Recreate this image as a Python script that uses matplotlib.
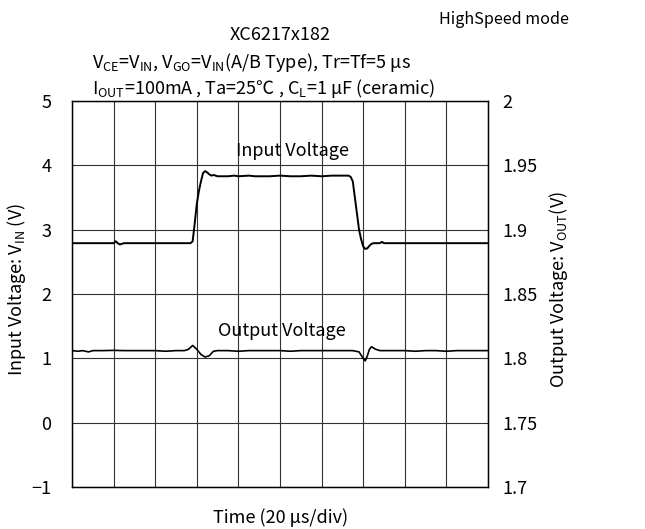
import matplotlib
matplotlib.use('Agg')
import matplotlib.pyplot as plt

plt.rcParams['font.family'] = ['Noto Sans CJK JP', 'DejaVu Sans']
plt.rcParams['mathtext.fontset'] = 'custom'
plt.rcParams['mathtext.rm'] = 'Noto Sans CJK JP'
plt.rcParams['mathtext.it'] = 'Noto Sans CJK JP'
plt.rcParams['mathtext.default'] = 'rm'

# time in us (20 us/div, 10 div)
t_in = [0, 20, 21, 22, 23, 24, 25, 57, 58, 59, 60, 61, 62, 63, 64, 65, 66, 67, 68, 70,
        75, 78, 80, 85, 88, 95, 100, 105, 110, 115, 120, 125, 130, 133, 134, 135, 136,
        137, 138, 139, 140, 141, 142, 143, 144, 145, 148, 149, 150, 200]
v_in = [2.79, 2.79, 2.82, 2.79, 2.77, 2.78, 2.79, 2.79, 2.82, 3.1, 3.4, 3.6, 3.75, 3.88,
        3.91, 3.89, 3.86, 3.84, 3.85, 3.83, 3.83, 3.84, 3.83, 3.84, 3.83, 3.83, 3.84,
        3.83, 3.83, 3.84, 3.83, 3.84, 3.84, 3.84, 3.82, 3.75, 3.5, 3.25, 3.0, 2.85,
        2.74, 2.70, 2.71, 2.75, 2.78, 2.79, 2.79, 2.81, 2.79, 2.79]

t_out = [0, 3, 5, 8, 10, 15, 20, 25, 30, 35, 40, 45, 50, 54, 56, 58, 60, 62, 64, 66, 68,
         70, 75, 80, 85, 90, 95, 100, 105, 110, 115, 120, 125, 130, 135, 138, 140, 141,
         142, 143, 144, 146, 148, 150, 155, 160, 165, 170, 175, 180, 185, 190, 195, 200]
v_out = [1.806, 1.8055, 1.806, 1.805, 1.806, 1.806, 1.8062, 1.806, 1.806, 1.806, 1.806,
         1.8055, 1.806, 1.806, 1.807, 1.810, 1.807, 1.803, 1.801, 1.802, 1.8055,
         1.806, 1.806, 1.8055, 1.806, 1.806, 1.806, 1.806, 1.8055, 1.806, 1.806, 1.806,
         1.806, 1.806, 1.806, 1.805, 1.800, 1.798, 1.802, 1.807, 1.809, 1.807, 1.806,
         1.806, 1.806, 1.806, 1.8055, 1.806, 1.806, 1.8055, 1.806, 1.806, 1.806, 1.806]

left_ticks = [-1, 0, 1, 2, 3, 4, 5]
left_labels = ['\u22121', '0', '1', '2', '3', '4', '5']
right_ticks = [1.7, 1.75, 1.8, 1.85, 1.9, 1.95, 2.0]
right_labels = ['1.7', '1.75', '1.8', '1.85', '1.9', '1.95', '2']
x_grid = [0, 20, 40, 60, 80, 100, 120, 140, 160, 180, 200]

fs = 13

fig = plt.figure(figsize=(6.45, 5.29), dpi=100)
ax = fig.add_axes([72 / 645, 1 - 487 / 529, 416 / 645, 386 / 529])
ax2 = ax.twinx()

ax.set_xlim(0, 200)
ax.set_ylim(-1, 5)
ax2.set_ylim(1.7, 2.0)
ax.set_xticks(x_grid)
ax.set_xticklabels([])
ax.set_yticks(left_ticks)
ax.set_yticklabels(left_labels)
ax2.set_yticks(right_ticks)
ax2.set_yticklabels(right_labels)
ax.tick_params(length=0, labelsize=fs, pad=15)
ax2.tick_params(length=0, labelsize=fs, pad=10)
ax.grid(True, color='#333333', linewidth=0.8)
for a in (ax, ax2):
    for s in a.spines.values():
        s.set_linewidth(0.9)

ax.plot(t_in, v_in, color='black', linewidth=1.4)
ax2.plot(t_out, v_out, color='black', linewidth=1.2)

ax.text(106, 4.22, 'Input Voltage', ha='center', va='center', fontsize=fs)
ax.text(101, 1.42, 'Output Voltage', ha='center', va='center', fontsize=fs)

fig.text(17 / 645, 1 - 290 / 529, r'Input Voltage: V$_{\mathregular{IN}}$ (V)',
         rotation=90, ha='center', va='center', fontsize=fs)
fig.text(558 / 645, 1 - 290 / 529, r'Output Voltage: V$_{\mathregular{OUT}}$(V)',
         rotation=90, ha='center', va='center', fontsize=fs)
fig.text(281 / 645, 1 - 518 / 529, 'Time (20 \u03bcs/div)', ha='center', va='center', fontsize=fs)

fig.text(504 / 645, 1 - 20 / 529, 'HighSpeed mode', ha='center', va='center', fontsize=11.6)
fig.text(280 / 645, 1 - 35 / 529, 'XC6217x182', ha='center', va='center', fontsize=fs)
fig.text(92 / 645, 1 - 62 / 529,
         r'V$_{\mathregular{CE}}$=V$_{\mathregular{IN}}$, V$_{\mathregular{GO}}$=V$_{\mathregular{IN}}$(A/B Type), Tr=Tf=5 $\mu$s',
         ha='left', va='center', fontsize=fs)
fig.text(92 / 645, 1 - 88 / 529,
         r'I$_{\mathregular{OUT}}$=100mA , Ta=25℃ , C$_{\mathregular{L}}$=1 $\mu$F (ceramic)',
         ha='left', va='center', fontsize=fs)

fig.savefig('out.png', dpi=100)
